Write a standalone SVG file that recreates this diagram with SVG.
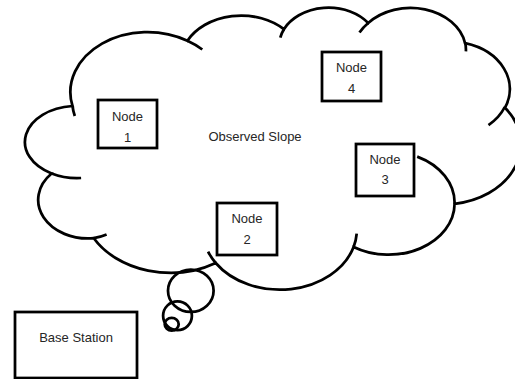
<svg xmlns="http://www.w3.org/2000/svg" width="515" height="379" viewBox="0 0 515 379">
  <style>
    .line { fill: none; stroke: #000; stroke-width: 2.75; stroke-linecap: butt; }
    .box { fill: #fff; stroke: #000; stroke-width: 2.75; }
    text { font-family: "Liberation Sans", Arial, sans-serif; font-size: 13px; fill: #262626; text-anchor: middle; }
  </style>
  <rect width="515" height="379" fill="#fff"/>

  <!-- cloud callout: outline of eleven lobes, inner lobe stubs, thought bubbles -->
  <g id="observed-slope">
    <path class="line" d="M72.5,106 A77.1,60 0 0 1 187.4,40.7 A60.9,47.4 0 0 1 283.9,29.2 A49.8,38.8 0 0 1 368.2,23 A55.5,43 0 0 1 465.1,43.2 A60.9,47.5 0 0 1 505,107.7 A77.4,60.2 0 0 1 454.6,203.8 A66.1,51.3 0 0 1 353.6,247 A77.1,60.1 0 0 1 215.7,263 A88.2,68.8 0 0 1 93.8,238.2 A49.8,38.6 0 0 1 51.6,173.5 A52,36.1 0 0 1 72.5,106 Z"/>
    <path class="line" d="M81.1,178 A52,36.1 0 0 1 51.6,173.5 M106.6,234.5 A49.8,38.6 0 0 1 93.8,238.2 M215.7,263 A77.1,60.1 0 0 1 208.1,251.6 M356.7,233.6 A77.1,60.1 0 0 1 353.6,247 M417.2,156.6 A66.1,51.3 0 0 1 454.6,203.8 M504.8,107 A60.9,47.5 0 0 1 488.5,125.1 M465.1,42.2 A55.5,43 0 0 1 465.9,51.4 M359.5,32.6 A55.5,43 0 0 1 368.2,23 M280.3,37.6 A49.8,38.8 0 0 1 283.9,29.2 M187.4,40.7 A77.1,60 0 0 1 202.3,49.5 M74.8,116 A77.1,60 0 0 1 72.5,106"/>
    <ellipse class="line" cx="190.8" cy="290.8" rx="22.8" ry="21.2"/>
    <ellipse class="line" cx="177.5" cy="315.8" rx="14.4" ry="14.4"/>
    <ellipse class="line" cx="171.7" cy="324.2" rx="7" ry="6.3"/>
    <text x="255" y="140.5">Observed Slope</text>
  </g>

  <g id="node-1">
    <rect class="box" x="98" y="100" width="59" height="48"/>
    <text x="127.5" y="120.5">Node</text>
    <text x="127.5" y="141.5">1</text>
  </g>

  <g id="node-2">
    <rect class="box" x="217" y="203" width="60" height="52"/>
    <text x="247" y="223">Node</text>
    <text x="247" y="244">2</text>
  </g>

  <g id="node-3">
    <rect class="box" x="356" y="144" width="58" height="52"/>
    <text x="385" y="164">Node</text>
    <text x="385" y="184">3</text>
  </g>

  <g id="node-4">
    <rect class="box" x="322" y="52" width="59" height="49"/>
    <text x="351.5" y="72">Node</text>
    <text x="351.5" y="93">4</text>
  </g>

  <g id="base-station">
    <rect class="box" x="15" y="312" width="122" height="66"/>
    <text x="76" y="341.5">Base Station</text>
  </g>

  <g id="connectors"/>
</svg>
